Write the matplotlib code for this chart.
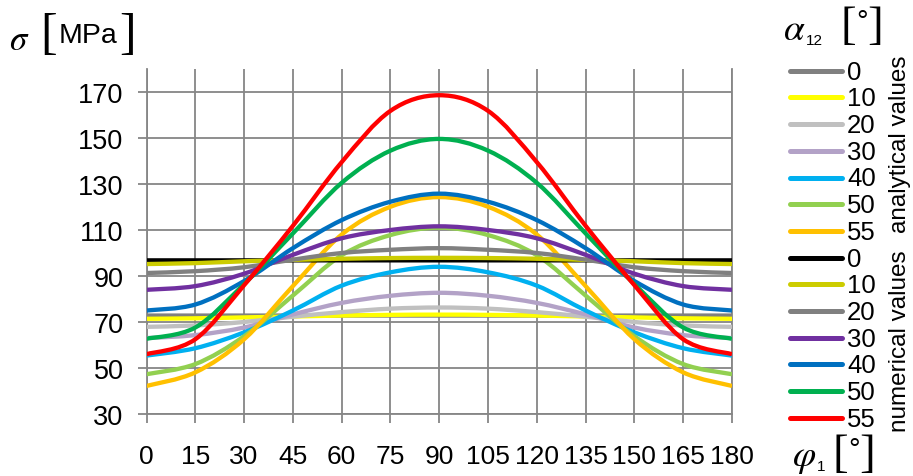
import matplotlib
matplotlib.use("Agg")
import matplotlib.pyplot as plt
from matplotlib.path import Path
from matplotlib.patches import PathPatch
from matplotlib.lines import Line2D

plt.rcParams['font.family'] = ['Liberation Sans', 'DejaVu Sans']
plt.rcParams['mathtext.fontset'] = 'stix'

# ---------------- data ----------------
phi = [0, 15, 30, 45, 60, 75, 90, 105, 120, 135, 150, 165, 180]
alpha_labels = ["0", "10", "20", "30", "40", "50", "55"]

# analytical values
an_0  = [72.8, 72.8, 72.8, 72.8, 72.8, 72.8, 72.8, 72.8, 72.8, 72.8, 72.8, 72.8, 72.8]
an_10 = [71.4, 71.6, 72.0, 72.4, 72.8, 73.1, 73.2, 73.1, 72.8, 72.4, 72.0, 71.6, 71.4]
an_20 = [67.9, 68.5, 70.0, 72.3, 74.3, 75.8, 76.3, 75.8, 74.3, 72.3, 70.0, 68.5, 67.9]
an_30 = [63.0, 64.3, 67.6, 73.3, 78.3, 81.4, 82.7, 81.4, 78.3, 73.3, 67.6, 64.3, 63.0]
an_40 = [55.4, 58.6, 65.5, 75.0, 85.8, 91.6, 94.0, 91.6, 85.8, 75.0, 65.5, 58.6, 55.4]
an_50 = [47.3, 51.7, 63.8, 81.5, 99.0, 107.8, 111.0, 107.8, 99.0, 81.5, 63.8, 51.7, 47.3]
an_55 = [42.2, 48.1, 62.5, 85.6, 108.0, 120.1, 124.3, 120.1, 108.0, 85.6, 62.5, 48.1, 42.2]

# numerical values
nu_0  = [96.8, 96.8, 96.8, 96.8, 96.8, 96.8, 96.8, 96.8, 96.8, 96.8, 96.8, 96.8, 96.8]
nu_10 = [95.2, 95.6, 96.4, 97.0, 97.5, 97.8, 97.9, 97.8, 97.5, 97.0, 96.4, 95.6, 95.2]
nu_20 = [91.3, 92.1, 93.8, 97.1, 100.0, 101.4, 102.1, 101.4, 100.0, 97.1, 93.8, 92.1, 91.3]
nu_30 = [84.0, 85.6, 91.0, 99.2, 106.4, 110.0, 111.6, 110.0, 106.4, 99.2, 91.0, 85.6, 84.0]
nu_40 = [75.0, 77.6, 87.8, 102.1, 114.3, 122.3, 125.8, 122.3, 114.3, 102.1, 87.8, 77.6, 75.0]
nu_50 = [62.7, 67.6, 86.5, 108.5, 130.5, 144.5, 149.6, 144.5, 130.5, 108.5, 86.5, 67.6, 62.7]
nu_55 = [56.0, 62.5, 86.0, 111.8, 139.5, 161.8, 168.6, 161.8, 139.5, 111.8, 86.0, 62.5, 56.0]

an_series = [an_0, an_10, an_20, an_30, an_40, an_50, an_55]
nu_series = [nu_0, nu_10, nu_20, nu_30, nu_40, nu_50, nu_55]
an_colors = ["#808080", "#FFFF00", "#C0C0C0", "#B3A2C7", "#00B0F0", "#92D050", "#FFC000"]
nu_colors = ["#000000", "#CCCC00", "#808080", "#7030A0", "#0070C0", "#00B050", "#FF0000"]

x_ticks = list(range(0, 181, 15))
y_ticks = list(range(30, 171, 20))

# ---------------- figure ----------------
W, H = 913, 477
fig = plt.figure(figsize=(W / 100, H / 100), dpi=100)
ax_l, ax_r, ax_t, ax_b = 146.5, 732.0, 70.0, 415.0
ax = fig.add_axes([ax_l / W, 1 - ax_b / H, (ax_r - ax_l) / W, (ax_b - ax_t) / H])

GRID = "#868686"


def smooth_path(xs, ys):
    """Excel-like smoothed line: cubic Bezier segments through the points."""
    n = len(xs)
    pts = list(zip(xs, ys))
    verts = [pts[0]]
    codes = [Path.MOVETO]
    for i in range(n - 1):
        p0 = pts[i - 1] if i > 0 else pts[i]
        p1 = pts[i]
        p2 = pts[i + 1]
        p3 = pts[i + 2] if i + 2 < n else pts[i + 1]
        c1 = (p1[0] + (p2[0] - p0[0]) / 6.0, p1[1] + (p2[1] - p0[1]) / 6.0)
        c2 = (p2[0] - (p3[0] - p1[0]) / 6.0, p2[1] - (p3[1] - p1[1]) / 6.0)
        verts += [c1, c2, p2]
        codes += [Path.CURVE4, Path.CURVE4, Path.CURVE4]
    return Path(verts, codes)


for ys, c in list(zip(an_series, an_colors)) + list(zip(nu_series, nu_colors)):
    patch = PathPatch(smooth_path(phi, ys), facecolor="none", edgecolor=c,
                      lw=3.1, capstyle="butt", joinstyle="round", zorder=3)
    ax.add_patch(patch)

ax.set_xlim(0, 180)
ax.set_ylim(30, 180)
ax.set_xticks(x_ticks)
ax.set_yticks(y_ticks)
ax.set_xticklabels([str(v) for v in x_ticks])
ax.set_yticklabels([str(v) for v in y_ticks])
ax.grid(True, color=GRID, lw=1.3, zorder=1)
ax.set_axisbelow(True)
for s in ["left", "right", "bottom"]:
    ax.spines[s].set_color(GRID)
    ax.spines[s].set_linewidth(1.3)
ax.spines["top"].set_visible(False)
ax.tick_params(axis="y", length=6.5, width=1.3, color=GRID, pad=10, labelsize=19.5)
ax.tick_params(axis="x", length=6.5, width=1.3, color=GRID, pad=15, labelsize=19)


def fx(px):
    return px / W


def fy(py):
    return 1 - py / H


# y axis title: sigma [MPa]
fig.text(fx(9), fy(40), r"$\sigma$", fontsize=25, ha="left", va="center")
fig.text(fx(40), fy(36), "[", fontsize=36, family="Liberation Serif", ha="left", va="center")
fig.text(fx(59), fy(36), "MPa", fontsize=20.5, ha="left", va="center")
fig.text(fx(119), fy(36), "]", fontsize=36, family="Liberation Serif", ha="left", va="center")

# legend title: alpha_12 [deg]
fig.text(fx(783), fy(30), r"$\alpha$", fontsize=27, ha="left", va="center")
fig.text(fx(806), fy(41), "12", fontsize=11, ha="left", va="center")
fig.text(fx(840), fy(28), "[", fontsize=34, family="Liberation Serif", ha="left", va="center")
fig.text(fx(856), fy(22), "°", fontsize=21, ha="left", va="center")
fig.text(fx(867), fy(28), "]", fontsize=34, family="Liberation Serif", ha="left", va="center")

# x axis title: phi_1 [deg]
fig.text(fx(792), fy(458), r"$\varphi$", fontsize=27, ha="left", va="center")
fig.text(fx(817), fy(467), "1", fontsize=11, ha="left", va="center")
fig.text(fx(832), fy(456), "[", fontsize=34, family="Liberation Serif", ha="left", va="center")
fig.text(fx(848), fy(450), "°", fontsize=21, ha="left", va="center")
fig.text(fx(859), fy(456), "]", fontsize=34, family="Liberation Serif", ha="left", va="center")

# legend entries
row0, dy = 71.7, 26.7
entries = list(zip(an_colors, alpha_labels)) + list(zip(nu_colors, alpha_labels))
for i, (c, lab) in enumerate(entries):
    y = row0 + i * dy
    fig.add_artist(Line2D([fx(790), fx(842)], [fy(y), fy(y)], color=c, lw=3.6,
                          solid_capstyle="round", transform=fig.transFigure))
    fig.text(fx(847), fy(y + 1), lab, fontsize=18.5, ha="left", va="center")

fig.text(fx(900), fy(144), "analytical values", fontsize=17.5, rotation=90,
         ha="center", va="center")
fig.text(fx(900), fy(341), "numerical values", fontsize=17.5, rotation=90,
         ha="center", va="center")

fig.savefig("out.png", dpi=100)
